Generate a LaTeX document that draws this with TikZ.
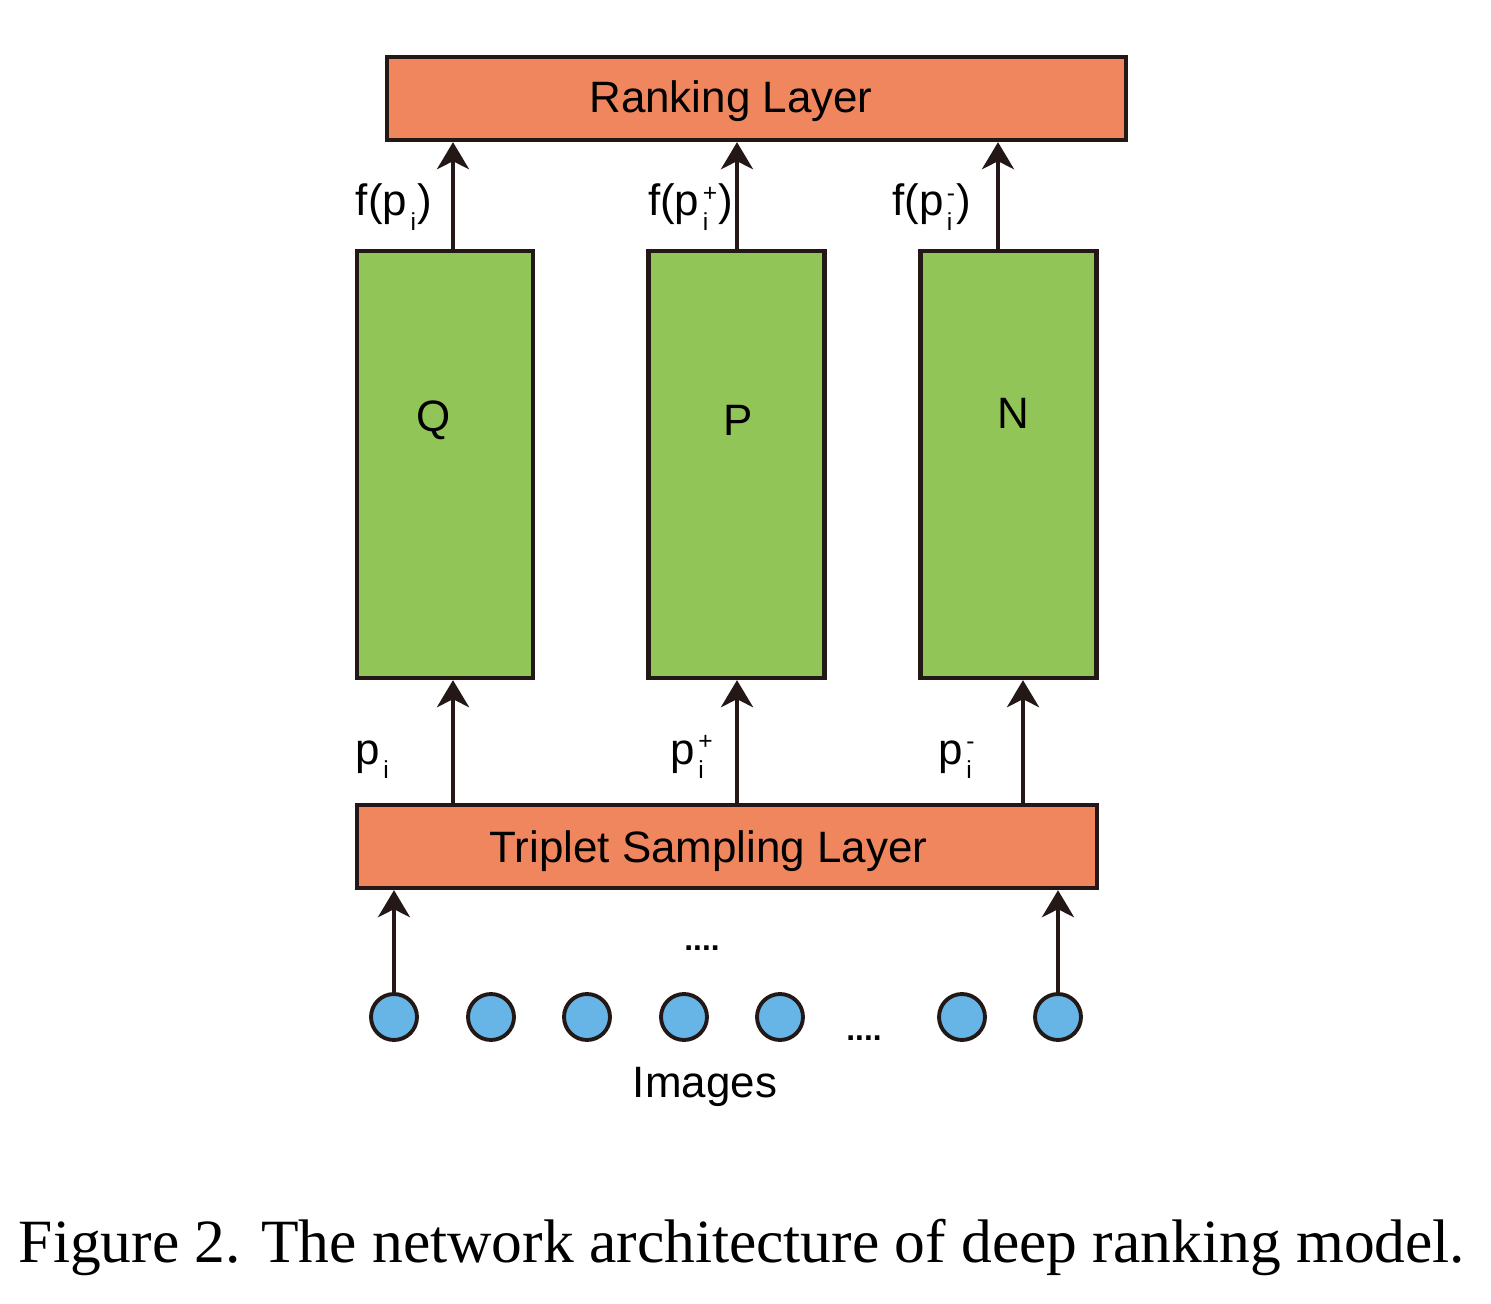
\documentclass[tikz,border=0pt]{standalone}
\usepackage{fontspec}
\setmainfont{Liberation Serif}
\setsansfont{Liberation Sans}
\usetikzlibrary{arrows.meta}
\definecolor{rankorange}{RGB}{239,134,94}
\definecolor{netgreen}{RGB}{146,197,87}
\definecolor{imgblue}{RGB}{103,181,230}
\definecolor{inkblack}{RGB}{35,24,21}
\newcommand{\pidx}[1]{p\kern2pt\raisebox{-8pt}{\fontsize{14}{16}\selectfont
  \setbox0\hbox{\raisebox{16pt}{#1}}\setbox2\hbox{i}%
  \ifdim\wd0>\wd2 \rlap{\box2}\box0\else\rlap{\box0}\box2\fi}\kern0.5pt}
\begin{document}
\begin{tikzpicture}[x=0.02cm,y=-0.02cm,
  layer/.style={draw=inkblack,line width=2.5pt,fill=rankorange,minimum height=1.66cm,inner sep=0pt},
  net/.style={draw=inkblack,line width=2.5pt,fill=netgreen,minimum width=3.52cm,minimum height=8.54cm,inner sep=0pt},
  img/.style={circle,draw=inkblack,line width=2.2pt,fill=imgblue,minimum size=0.92cm,inner sep=0pt},
  txt/.style={font=\sffamily\fontsize{25}{30}\selectfont,inner sep=0pt},
  dots/.style={font=\sffamily\bfseries\fontsize{18}{20}\selectfont,inner sep=0pt,anchor=base},
  arr/.style={draw=inkblack,line width=2.5pt,-{Stealth[length=0.54cm,width=0.64cm,inset=0.16cm]}}]
\useasboundingbox (0,0) rectangle (1491,1304);

\node[layer,minimum width=14.78cm] (rank) at (756.5,98.5) {};
\node[txt] (ranktxt) at (731,101) {Ranking Layer};
\node[layer,minimum width=14.8cm] (trip) at (727,846.5) {};
\node[txt] (triptxt) at (708.5,851) {Triplet Sampling Layer};

\node[net] (Q) at (445,464.5) {};
\node[net] (P) at (736.5,464.5) {};
\node[net] (N) at (1008.5,464.5) {};
\node[txt] at (434,420) {Q};
\node[txt] at (738,420) {P};
\node[txt] at (1013,413) {N};

\coordinate (qx) at (453,0);
\coordinate (px) at (737,0);
\coordinate (nxt) at (998,0);
\coordinate (nxb) at (1023,0);

% outputs of the three nets
\draw[arr] (Q.north -| qx) -- (rank.south -| qx);
\draw[arr] (P.north -| px) -- (rank.south -| px);
\draw[arr] (N.north -| nxt) -- (rank.south -| nxt);
\node[txt,anchor=base east] (fq) at (432,216) {f(\pidx{})};
\node[txt,anchor=base east] (fp) at (733,216) {f(\pidx{+})};
\node[txt,anchor=base east] (fn) at (971,216) {f(\pidx{-})};

% triplet to nets
\draw[arr] (trip.north -| qx) -- (Q.south -| qx);
\draw[arr] (trip.north -| px) -- (P.south -| px);
\draw[arr] (trip.north -| nxb) -- (N.south -| nxb);
\node[txt,anchor=base west] (pq) at (355,764) {\pidx{}};
\node[txt,anchor=base west] (pp) at (670,764) {\pidx{+}};
\node[txt,anchor=base west] (pn) at (938,764) {\pidx{-}};

% images
\foreach \xx [count=\k] in {394,491,587,684,780,962,1058}
  \node[img] (img\k) at (\xx,1017) {};
\draw[arr] (img1) -- (img1 |- trip.south);
\draw[arr] (img7) -- (img7 |- trip.south);
\node[dots] (dtop) at (702,950) {....};
\node[dots] (dbot) at (864,1040) {....};
\node[txt,anchor=base] (imgs) at (705,1097) {Images};

\node[anchor=base,inner sep=0pt,font=\rmfamily\fontsize{35}{42}\selectfont] (cap) at (742,1262) {Figure 2. The network architecture of deep ranking model.};
\end{tikzpicture}
\end{document}
